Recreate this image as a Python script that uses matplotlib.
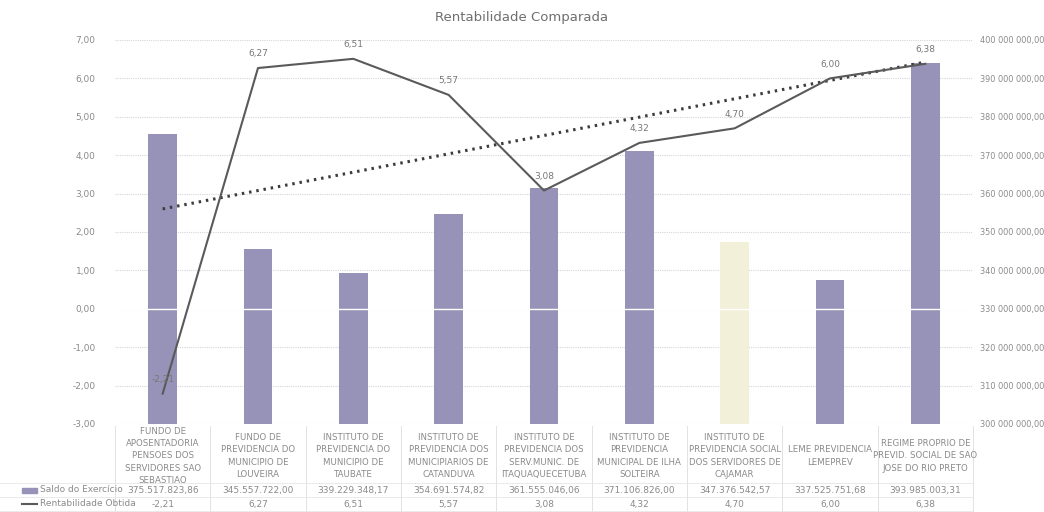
import numpy as np
import matplotlib
matplotlib.use('Agg')
import matplotlib.pyplot as plt
from matplotlib.patches import Rectangle
from matplotlib.lines import Line2D

# Dados
categorias = [
    'FUNDO DE\nAPOSENTADORIA\nPENSOES DOS\nSERVIDORES SAO\nSEBASTIAO',
    'FUNDO DE\nPREVIDENCIA DO\nMUNICIPIO DE\nLOUVEIRA',
    'INSTITUTO DE\nPREVIDENCIA DO\nMUNICIPIO DE\nTAUBATE',
    'INSTITUTO DE\nPREVIDENCIA DOS\nMUNICIPIARIOS DE\nCATANDUVA',
    'INSTITUTO DE\nPREVIDENCIA DOS\nSERV.MUNIC. DE\nITAQUAQUECETUBA',
    'INSTITUTO DE\nPREVIDENCIA\nMUNICIPAL DE ILHA\nSOLTEIRA',
    'INSTITUTO DE\nPREVIDENCIA SOCIAL\nDOS SERVIDORES DE\nCAJAMAR',
    'LEME PREVIDENCIA\nLEMEPREV',
    'REGIME PROPRIO DE\nPREVID. SOCIAL DE SAO\nJOSE DO RIO PRETO',
]
saldo = [375517823.86, 345557722.00, 339229348.17, 354691574.82, 361555046.06,
         371106826.00, 347376542.57, 337525751.68, 393985003.31]
rentabilidade = [-2.21, 6.27, 6.51, 5.57, 3.08, 4.32, 4.70, 6.00, 6.38]

left_ticks = np.arange(-3, 8, 1)
right_ticks = np.arange(300e6, 400e6 + 1, 10e6)


def br(v, sep='.'):
    s = '{:,.2f}'.format(v)
    return s.replace(',', 'X').replace('.', ',').replace('X', sep)


txt = '#8a8a8a'
bar_col = '#9792b8'
bar_cols = [bar_col] * 9
bar_cols[6] = '#f3f0da'

fig = plt.figure(figsize=(10.44, 5.12), dpi=100)
ax = fig.add_axes([115 / 1044, 1 - 424 / 512, 858 / 1044, 384 / 512])
ax2 = ax.twinx()
ax.set_zorder(ax2.get_zorder() + 1)
ax.patch.set_visible(False)

x = np.arange(1, len(saldo) + 1)

# barras no eixo secundario
ax2.bar(x, saldo, width=0.3, color=bar_cols, zorder=2)
ax2.set_ylim(300e6, 400e6)
ax2.set_yticks(right_ticks)
ax2.set_yticklabels([br(v, sep=' ') for v in right_ticks], fontsize=5.9, color=txt)
ax2.tick_params(axis='y', length=0, pad=5)
ax2.grid(axis='y', color='#d6d6d6', lw=0.8, ls=(0, (1, 1)))
ax2.set_axisbelow(True)

# linha de rentabilidade
ax.plot(x, rentabilidade, color='#5a5a5a', lw=1.5, zorder=4)
coef = np.polyfit(x, rentabilidade, 1)
ax.plot(x, np.polyval(coef, x), color='#3c3c3c', lw=2.2, ls=(0, (0.8, 1.6)), zorder=3)
ax.axhline(0, color='white', lw=1, zorder=2)
for xi, yi in zip(x, rentabilidade):
    ax.annotate(br(yi), (xi, yi), xytext=(0, 7), textcoords='offset points',
                ha='center', va='bottom', fontsize=6.5, color='#777777', zorder=5)

ax.set_ylim(-3, 7)
ax.set_yticks(left_ticks)
ax.set_yticklabels([br(v) for v in left_ticks], fontsize=6.5, color=txt)
ax.tick_params(axis='y', length=0, pad=14)
ax.set_xlim(0.5, len(x) + 0.5)
ax.set_xticks([])
for a in (ax, ax2):
    for s in a.spines.values():
        s.set_visible(False)

fig.text(0.5, 1 - 18 / 512, 'Rentabilidade Comparada', ha='center', va='center',
         fontsize=9.5, color='#6e6e6e')

# tabela de dados
tr = ax.get_xaxis_transform()
px = 1 / 384  # um pixel em coordenadas do eixo (vertical)
for xi, cat, sv, rv in zip(x, categorias, saldo, rentabilidade):
    ax.text(xi, -32 * px, cat, transform=tr, ha='center', va='center',
            fontsize=6.2, color=txt, linespacing=1.45, clip_on=False)
    ax.text(xi, -66 * px, br(sv), transform=tr, ha='center', va='center',
            fontsize=6.5, color=txt, clip_on=False)
    ax.text(xi, -80 * px, br(rv), transform=tr, ha='center', va='center',
            fontsize=6.5, color=txt, clip_on=False)
for xb in np.arange(0.5, len(x) + 1):
    ax.add_line(Line2D([xb, xb], [-2 * px, -88 * px], transform=tr,
                       color='#e2e2e2', lw=0.7, clip_on=False))
for yb in [-59 * px, -73 * px, -87 * px]:
    ax.add_line(Line2D([-0.95, len(x) + 0.5], [yb, yb], transform=tr,
                       color='#e6e6e6', lw=0.6, clip_on=False))

fig.text(40 / 1044, 1 - 490 / 512, 'Saldo do Exercício', ha='left', va='center',
         fontsize=6.5, color=txt)
fig.text(40 / 1044, 1 - 504 / 512, 'Rentabilidade Obtida', ha='left', va='center',
         fontsize=6.5, color=txt)
fig.patches.append(Rectangle((22 / 1044, 1 - 493 / 512), 15 / 1044, 5 / 512,
                             transform=fig.transFigure, color=bar_col))
fig.lines.append(Line2D([22 / 1044, 37 / 1044], [1 - 504 / 512] * 2,
                        transform=fig.transFigure, color='#5a5a5a', lw=1.5))

fig.savefig('out.png', dpi=100, facecolor='white')
